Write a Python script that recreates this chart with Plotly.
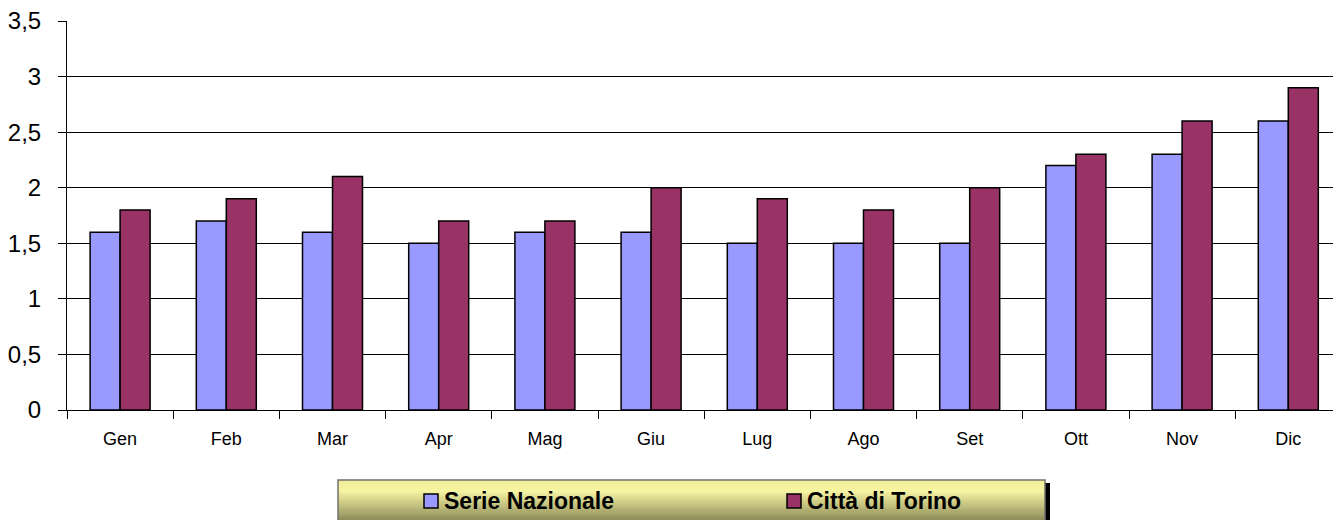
import plotly.graph_objects as go

months = ["Gen", "Feb", "Mar", "Apr", "Mag", "Giu", "Lug", "Ago", "Set", "Ott", "Nov", "Dic"]
serie_nazionale = [1.6, 1.7, 1.6, 1.5, 1.6, 1.6, 1.5, 1.5, 1.5, 2.2, 2.3, 2.6]
citta_torino = [1.8, 1.9, 2.1, 1.7, 1.7, 2.0, 1.9, 1.8, 2.0, 2.3, 2.6, 2.9]
series_names = ["Serie Nazionale", "Città di Torino"]
colors = ["#9999FF", "#993366"]

W, H = 1333, 520
ML, MR, MT, MB = 67, 0, 21, 110
PW, PH = W - ML - MR, H - MT - MB
CAT_W = 106.2  # pixel width of one category band

def px_x(x):
    return (x - ML) / PW

def px_y(y):
    return (H - MB - y) / PH

fig = go.Figure()
for name, vals, c in zip(series_names, [serie_nazionale, citta_torino], colors):
    fig.add_trace(go.Bar(x=months, y=vals, name=name, marker=dict(color=c, line=dict(color="black", width=1.5)),
                         showlegend=False))

shapes = []
# legend box with gradient
x0, x1, y0, y1 = 338, 1045, 480, 522
n = 24
stops = [(0.0, (240, 238, 152)), (0.25, (247, 245, 162)), (1.0, (138, 136, 86))]

def grad(t):
    for (ta, ca), (tb, cb) in zip(stops[:-1], stops[1:]):
        if ta <= t <= tb:
            f = (t - ta) / (tb - ta)
            return tuple(int(ca[k] + (cb[k] - ca[k]) * f) for k in range(3))
    return stops[-1][1]

for i in range(n):
    t = i / (n - 1)
    col = grad(t)
    ya = y0 + (y1 - y0) * i / n
    yb = y0 + (y1 - y0) * (i + 1) / n
    shapes.append(dict(type="rect", xref="paper", yref="paper", x0=px_x(x0), x1=px_x(x1), y0=px_y(ya), y1=px_y(yb + 0.5),
                       fillcolor="rgb(%d,%d,%d)" % col, line=dict(width=0), layer="above"))
# shadow
shapes.append(dict(type="rect", xref="paper", yref="paper", x0=px_x(x1), x1=px_x(x1 + 5), y0=px_y(483), y1=px_y(522),
                   fillcolor="black", line=dict(width=0), layer="above"))
# border
shapes.append(dict(type="rect", xref="paper", yref="paper", x0=px_x(x0), x1=px_x(x1), y0=px_y(y0), y1=px_y(y1),
                   fillcolor="rgba(0,0,0,0)", line=dict(color="#707070", width=1.5), layer="above"))

annotations = []
leg_x = [424, 787]
for lx, name, c in zip(leg_x, series_names, colors):
    shapes.append(dict(type="rect", xref="paper", yref="paper", x0=px_x(lx), x1=px_x(lx + 14), y0=px_y(494), y1=px_y(508),
                       fillcolor=c, line=dict(color="black", width=1.5), layer="above"))
    annotations.append(dict(text="<b>" + name + "</b>", xref="paper", yref="paper", x=px_x(lx + 18), y=px_y(501),
                            xanchor="left", yanchor="middle", showarrow=False,
                            font=dict(family="Liberation Sans, Arial", size=23, color="black")))

fig.update_layout(
    width=W, height=H,
    margin=dict(l=ML, r=MR, t=MT, b=MB),
    plot_bgcolor="white", paper_bgcolor="white",
    barmode="group", bargap=0.435, bargroupgap=0,
    separators=", ",
    font=dict(family="Liberation Sans, Arial", color="black"),
    shapes=shapes, annotations=annotations,
    xaxis=dict(range=[-0.5, -0.5 + PW / CAT_W], showline=True, linecolor="black", linewidth=1, ticks="outside",
               tickson="boundaries", ticklen=8, tickcolor="black", tickfont=dict(size=18), showgrid=False,
               ticklabelstandoff=12),
    yaxis=dict(range=[0, 3.5], dtick=0.5, showline=True, linecolor="black", linewidth=1, ticks="outside",
               ticklen=8, tickcolor="black", tickfont=dict(size=24), showgrid=True, gridcolor="black", gridwidth=1,
               zeroline=False, ticklabelstandoff=12),
)
fig.write_html("out.html", config={"displayModeBar": False},
               post_script="document.body.style.margin='0';document.body.style.overflow='hidden';")
